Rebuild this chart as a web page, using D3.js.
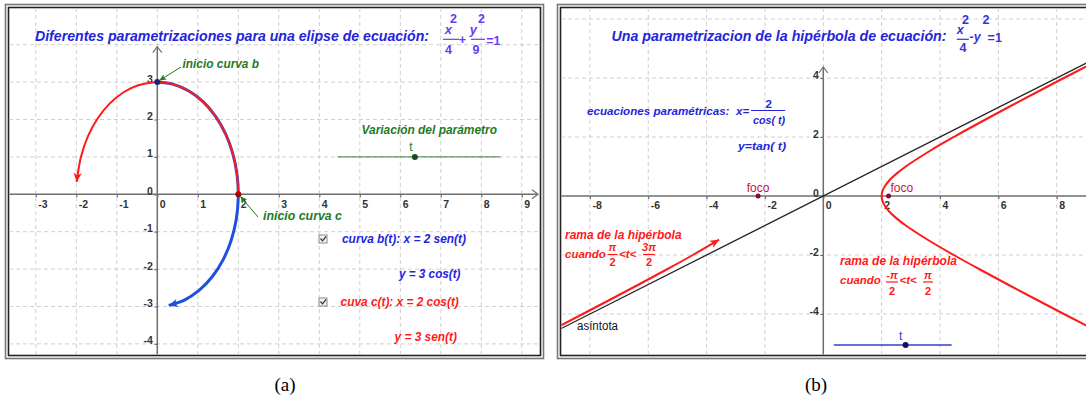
<!DOCTYPE html>
<html><head><meta charset="utf-8">
<script src="https://cdn.jsdelivr.net/npm/d3@7"></script>
<style>
html,body{margin:0;padding:0;background:#fff;}
</style></head><body>
<svg id="chart" width="1086" height="401"></svg>
<script>
// ---------------- data ----------------
const leftXTicks = [-3,-2,-1,0,1,2,3,4,5,6,7,8,9];
const leftYGrid = [-4,-3,-2,-1,0,1,2,3,4];
const leftYTicks = [-4,-3,-2,-1,0,1,2,3];
const rightXTicks = [-8,-6,-4,-2,0,2,4,6,8];
const rightYTicks = [-4,-2,0,2,4];
const rightYGrid = [-4,-2,2,4,6];

// curva b(t): x = 2 sen(t), y = 3 cos(t)   (points read along the blue arc)
const curveB = [[0,3],[0.397,2.940],[0.779,2.763],[1.129,2.476],[1.435,2.090],[1.683,1.621],
  [1.864,1.087],[1.971,0.510],[1.999,-0.088],[1.948,-0.682],[1.819,-1.248],[1.617,-1.766],
  [1.351,-2.212],[1.031,-2.571],[0.670,-2.827],[0.282,-2.970]];
// curva c(t): x = 2 cos(t), y = 3 sen(t)   (points read along the red arc)
const curveC = [[2,0],[1.960,0.596],[1.842,1.168],[1.651,1.694],[1.393,2.152],[1.081,2.524],
  [0.725,2.796],[0.340,2.956],[-0.058,2.999],[-0.454,2.921],[-0.832,2.728],[-1.177,2.425],
  [-1.475,2.026],[-1.714,1.547],[-1.884,1.005],[-1.980,0.423],[-1.991,0.33]];
const startB = [0,3];
const startC = [2,0];
const leftSlider = {from:4.45, to:8.47, y:1.0, value:6.36};

// hyperbola x^2/4 - y^2 = 1
const hypRight = [[11.18,-5.5],[10.198,-5],[9.220,-4.5],[8.246,-4],[7.280,-3.5],[6.325,-3],[5.385,-2.5],
  [4.472,-2],[3.606,-1.5],[2.828,-1],[2.5,-0.75],[2.236,-0.5],[2.062,-0.25],[2.016,-0.125],[2,0],
  [2.016,0.125],[2.062,0.25],[2.236,0.5],[2.5,0.75],[2.828,1],[3.606,1.5],[4.472,2],[5.385,2.5],
  [6.325,3],[7.280,3.5],[8.246,4],[9.220,4.5],[10.198,5],[11.18,5.5]];
const hypLeft = [[-11.18,-5.5],[-10.198,-5],[-9.220,-4.5],[-8.246,-4],[-7.280,-3.5],[-6.325,-3],
  [-5.385,-2.5],[-4.472,-2],[-3.572,-1.48]];
const asymptote = [[-10,-5],[10,5]];
const foci = [[-2.236,0],[2.236,0]];
const rightSlider = {from:0.36, to:4.40, y:-5.05, value:2.82};

// ---------------- drawing ----------------
const SANS = "'Liberation Sans', Arial, sans-serif";
const svg = d3.select("#chart");
const defs = svg.append("defs");
function marker(id, color, w, h){
  defs.append("marker").attr("id",id).attr("viewBox","0 0 10 10")
    .attr("refX",10).attr("refY",5).attr("markerWidth",w).attr("markerHeight",h)
    .attr("markerUnits","userSpaceOnUse").attr("orient","auto")
    .append("path").attr("d","M0,0.5L10,5L0,9.5L2.5,5Z").attr("fill",color);
}
marker("arrRed","#ff1a1a",12,9);
marker("arrBlue","#1f4fe0",12,9);
marker("arrGreen","#1e7b1e",8,7);

const BLUE = "#2424dd", RED = "#ff1a1a", GREEN = "#1e7b1e";

function txt(g, s, x, y, o={}){
  const t = g.append("text").attr("x",x).attr("y",y).text(s)
    .style("font-family", SANS)
    .attr("font-size", o.size||12)
    .attr("font-weight", o.weight||"bold")
    .attr("font-style", o.style||"italic")
    .attr("fill", o.fill||"#000")
    .attr("text-anchor", o.anchor||"start");
  if (o.len) t.attr("textLength", o.len).attr("lengthAdjust","spacingAndGlyphs");
  return t;
}
function bar(g, x1, x2, y, color){
  g.append("line").attr("x1",x1).attr("x2",x2).attr("y1",y).attr("y2",y)
    .attr("stroke",color).attr("stroke-width",1.2);
}

function panel(cfg){
  const g = svg.append("g");
  const {x, y, box} = cfg;
  g.append("rect").attr("x",box.x0-3.5).attr("y",box.y0-3.5)
    .attr("width",box.x1-box.x0+7).attr("height",box.y1-box.y0+7)
    .attr("fill","none").attr("stroke","#777").attr("stroke-width",1.6);
  g.append("rect").attr("x",box.x0-0.5).attr("y",box.y0-0.5)
    .attr("width",box.x1-box.x0+1).attr("height",box.y1-box.y0+1)
    .attr("fill","#fff").attr("stroke","#222").attr("stroke-width",1.6);
  const clipId = cfg.id + "clip";
  defs.append("clipPath").attr("id",clipId).append("rect")
    .attr("x",box.x0+0.5).attr("y",box.y0+0.5)
    .attr("width",box.x1-box.x0-1).attr("height",box.y1-box.y0-1);
  const inner = g.append("g").attr("clip-path",`url(#${clipId})`);
  inner.append("g").selectAll("line").data(cfg.xGrid).join("line")
    .attr("x1",d=>x(d)).attr("x2",d=>x(d)).attr("y1",box.y0).attr("y2",box.y1)
    .attr("stroke","#cfcfcf").attr("stroke-dasharray","4,3").attr("stroke-width",1);
  inner.append("g").selectAll("line").data(cfg.yGrid).join("line")
    .attr("y1",d=>y(d)).attr("y2",d=>y(d)).attr("x1",box.x0).attr("x2",box.x1)
    .attr("stroke","#cfcfcf").attr("stroke-dasharray","4,3").attr("stroke-width",1);
  const axCol = "#6f6f6f";
  inner.append("line").attr("x1",box.x0).attr("x2",cfg.xArrow).attr("y1",y(0)).attr("y2",y(0))
    .attr("stroke",axCol).attr("stroke-width",1.5);
  inner.append("line").attr("x1",x(0)).attr("x2",x(0)).attr("y1",cfg.yArrow).attr("y2",box.y1)
    .attr("stroke",axCol).attr("stroke-width",1.5);
  inner.append("path").attr("d",`M${x(0)-4.5},${cfg.yArrow+6}L${x(0)},${cfg.yArrow}L${x(0)+4.5},${cfg.yArrow+6}`)
    .attr("fill","none").attr("stroke",axCol).attr("stroke-width",1.2);
  inner.append("path").attr("d",`M${cfg.xArrow-6},${y(0)-4.5}L${cfg.xArrow},${y(0)}L${cfg.xArrow-6},${y(0)+4.5}`)
    .attr("fill","none").attr("stroke",axCol).attr("stroke-width",1.2);
  const ax = inner.append("g").attr("transform",`translate(0,${y(0)})`)
    .call(d3.axisBottom(x).tickValues(cfg.xTicks).tickSize(3).tickFormat(d=>String(d)));
  const ay = inner.append("g").attr("transform",`translate(${x(0)},0)`)
    .call(d3.axisLeft(y).tickValues(cfg.yTicks).tickSize(3).tickFormat(d=>String(d)));
  [ax, ay].forEach(a=>{
    a.select(".domain").remove();
    a.selectAll(".tick line").attr("stroke",axCol).attr("stroke-width",1.2);
    a.selectAll(".tick text").style("font-family",SANS)
      .attr("font-size",10.5).attr("font-weight","bold").attr("fill","#333");
  });
  ax.selectAll(".tick text").attr("text-anchor","start").attr("x",2).attr("y",cfg.xLabDy).attr("dy",null);
  ay.selectAll(".tick text").attr("x",-4.5).attr("y",0).attr("dy",null);
  return {g, inner};
}

// ---------- Panel (a) ----------
const lx = d3.scaleLinear().domain([-3,9]).range([35.8,521.8]);
const ly = d3.scaleLinear().domain([-4,4]).range([343.9,44.7]);
const A = panel({id:"a", x:lx, y:ly, box:{x0:9,y0:8,x1:540,y1:355},
  xGrid:leftXTicks, yGrid:leftYGrid, xTicks:leftXTicks, yTicks:leftYTicks,
  xArrow:538, yArrow:46.7, xLabDy:13.5});
const lineL = d3.line().x(d=>lx(d[0])).y(d=>ly(d[1])).curve(d3.curveCatmullRom);
A.inner.append("path").attr("d",lineL(curveB)).attr("fill","none")
  .attr("stroke","#1f4fe0").attr("stroke-width",3).attr("marker-end","url(#arrBlue)");
A.inner.append("path").attr("d",lineL(curveC)).attr("fill","none")
  .attr("stroke","#ff1a1a").attr("stroke-width",2).attr("marker-end","url(#arrRed)");
A.inner.append("circle").attr("cx",lx(startB[0])).attr("cy",ly(startB[1])).attr("r",3).attr("fill","#18247a");
A.inner.append("circle").attr("cx",lx(startC[0])).attr("cy",ly(startC[1])).attr("r",3).attr("fill","#b00000");
A.g.append("line").attr("x1",181).attr("y1",67).attr("x2",lx(startB[0])+2).attr("y2",ly(startB[1])-1.5)
  .attr("stroke",GREEN).attr("stroke-width",1).attr("marker-end","url(#arrGreen)");
A.g.append("line").attr("x1",258).attr("y1",217).attr("x2",lx(startC[0])+2).attr("y2",ly(startC[1])+2)
  .attr("stroke",GREEN).attr("stroke-width",1).attr("marker-end","url(#arrGreen)");
A.g.append("line").attr("x1",lx(leftSlider.from)).attr("x2",lx(leftSlider.to))
  .attr("y1",ly(leftSlider.y)).attr("y2",ly(leftSlider.y)).attr("stroke","#3a7d3a").attr("stroke-width",1);
A.g.append("circle").attr("cx",lx(leftSlider.value)).attr("cy",ly(leftSlider.y)).attr("r",3).attr("fill","#1b4d1b");
txt(A.g,"t",lx(leftSlider.value)-4,151,{fill:GREEN,style:"normal",weight:"normal",size:12,anchor:"middle"});
txt(A.g,"Diferentes parametrizaciones para una elipse de ecuación:",35,40.5,{fill:BLUE,size:14,len:394});
const FV = "#6a3cf0";
txt(A.g,"x",448.4,33.5,{fill:FV,anchor:"middle",size:13});
txt(A.g,"2",453.6,23,{fill:FV,anchor:"middle",style:"normal",size:12.5});
bar(A.g,443,459,39.3,FV);
txt(A.g,"4",448.4,53.5,{fill:FV,anchor:"middle",style:"normal",size:12.5});
txt(A.g,"+",462.5,44,{fill:FV,anchor:"middle",style:"normal",size:12.5});
txt(A.g,"y",473.4,33.5,{fill:FV,anchor:"middle",size:13});
txt(A.g,"2",481.4,23,{fill:FV,anchor:"middle",style:"normal",size:12.5});
bar(A.g,471,485,39.3,FV);
txt(A.g,"9",476,53.5,{fill:FV,anchor:"middle",style:"normal",size:12.5});
txt(A.g,"=1",486.3,44.5,{fill:FV,style:"normal",size:12.5});
txt(A.g,"inicio curva b",182.5,68,{fill:GREEN,len:76.5});
txt(A.g,"inicio curva c",263,219.5,{fill:GREEN,len:79});
txt(A.g,"Variación del parámetro",361.5,134,{fill:GREEN,len:135.5});
function checkbox(g,cx,cy){
  g.append("rect").attr("x",cx-4).attr("y",cy-4).attr("width",8).attr("height",8)
    .attr("fill","#f2f2f2").attr("stroke","#8a8a8a").attr("stroke-width",1);
  g.append("path").attr("d",`M${cx-2.5},${cy-0.5}L${cx-0.5},${cy+1.8}L${cx+3},${cy-2.5}`)
    .attr("fill","none").attr("stroke","#333").attr("stroke-width",1.2);
}
checkbox(A.g,323,239);
checkbox(A.g,323,302);
txt(A.g,"curva b(t): x = 2 sen(t)",342,243,{fill:BLUE,len:124});
txt(A.g,"y = 3 cos(t)",399,278,{fill:BLUE,len:61.5});
txt(A.g,"cuva c(t): x = 2 cos(t)",340.6,305.5,{fill:RED,len:118.2});
txt(A.g,"y = 3 sen(t)",394.5,341,{fill:RED,len:62.5});

// ---------- Panel (b) ----------
const rx = d3.scaleLinear().domain([-8,8]).range([589.9,1056.7]);
const ry = d3.scaleLinear().domain([-4,4]).range([314,78]);
const B = panel({id:"b", x:rx, y:ry, box:{x0:561,y0:8,x1:1094,y1:355},
  xGrid:rightXTicks, yGrid:rightYGrid, xTicks:rightXTicks, yTicks:rightYTicks,
  xArrow:1100, yArrow:67, xLabDy:13});
const lineR = d3.line().x(d=>rx(d[0])).y(d=>ry(d[1]));
B.inner.append("path").attr("d",lineR(asymptote)).attr("fill","none")
  .attr("stroke","#222").attr("stroke-width",1.3);
const lineRc = d3.line().x(d=>rx(d[0])).y(d=>ry(d[1])).curve(d3.curveCatmullRom);
B.inner.append("path").attr("d",lineRc(hypRight)).attr("fill","none")
  .attr("stroke","#ff1a1a").attr("stroke-width",2);
B.inner.append("path").attr("d",lineRc(hypLeft)).attr("fill","none")
  .attr("stroke","#ff1a1a").attr("stroke-width",2).attr("marker-end","url(#arrRed)");
B.inner.selectAll(".foco").data(foci).join("circle").attr("class","foco")
  .attr("cx",d=>rx(d[0])).attr("cy",d=>ry(d[1])).attr("r",2.5).attr("fill","#8b0a2a");
txt(B.g,"foco",rx(foci[0][0]),192,{fill:"#cc1040",style:"normal",weight:"normal",anchor:"middle"});
txt(B.g,"foco",rx(foci[1][0])+2,192,{fill:"#cc1040",style:"normal",weight:"normal"});
B.g.append("line").attr("x1",rx(rightSlider.from)).attr("x2",rx(rightSlider.to))
  .attr("y1",ry(rightSlider.y)).attr("y2",ry(rightSlider.y)).attr("stroke","#3040d0").attr("stroke-width",1.5);
B.g.append("circle").attr("cx",rx(rightSlider.value)).attr("cy",ry(rightSlider.y)).attr("r",3).attr("fill","#101060");
txt(B.g,"t",rx(rightSlider.value)-5,339.5,{fill:"#3040d0",style:"normal",weight:"normal",anchor:"middle"});
txt(B.g,"Una parametrizacion de la hipérbola  de ecuación:",611.5,40.5,{fill:BLUE,size:14,len:335});
const FV2 = "#3a2fd8";
txt(B.g,"x",960.3,33.5,{fill:FV2,anchor:"middle",size:12.5});
txt(B.g,"2",965.4,23.5,{fill:FV2,anchor:"middle",style:"normal",size:12.5});
bar(B.g,956.8,968.8,39.3,FV2);
txt(B.g,"4",963,51.5,{fill:FV2,anchor:"middle",style:"normal",size:12.5});
txt(B.g,"-y",969.5,41,{fill:FV2,size:12.5});
txt(B.g,"2",986,24,{fill:FV2,anchor:"middle",style:"normal",size:12.5});
txt(B.g,"=1",987.6,42,{fill:FV2,style:"normal",size:12.5});
txt(B.g,"ecuaciones paramétricas:",587,115,{fill:BLUE,size:11.5,len:142.5});
txt(B.g,"x=",736,115,{fill:BLUE,size:11.5});
txt(B.g,"2",768.8,107.5,{fill:BLUE,size:11.5,anchor:"middle",style:"normal"});
bar(B.g,751,785.2,110.5,BLUE);
txt(B.g,"cos( t)",769,123.5,{fill:BLUE,size:11.5,anchor:"middle",len:32});
txt(B.g,"y=tan( t)",738,150,{fill:BLUE,size:11.5,len:48});
// rama 1
txt(B.g,"rama de la hipérbola",565,239,{fill:RED,len:116.6});
txt(B.g,"cuando",565,258,{fill:RED,size:11.5});
txt(B.g,"π",612.5,251,{fill:RED,anchor:"middle",size:11});
bar(B.g,607.5,617.5,254.5,RED);
txt(B.g,"2",612.5,266,{fill:RED,anchor:"middle",size:11,style:"normal"});
txt(B.g,"<t<",619,258,{fill:RED,size:11.5});
txt(B.g,"3π",649,251,{fill:RED,anchor:"middle",size:11});
bar(B.g,643,655,254.5,RED);
txt(B.g,"2",649,266,{fill:RED,anchor:"middle",size:11,style:"normal"});
// rama 2
txt(B.g,"rama de la hipérbola",840,265,{fill:RED,len:117});
txt(B.g,"cuando",840,284,{fill:RED,size:11.5});
txt(B.g,"-π",892,278.5,{fill:RED,anchor:"middle",size:11});
bar(B.g,886,898,282,RED);
txt(B.g,"2",892,295,{fill:RED,anchor:"middle",size:11,style:"normal"});
txt(B.g,"<t<",899.5,284,{fill:RED,size:11.5});
txt(B.g,"π",928,278.5,{fill:RED,anchor:"middle",size:11});
bar(B.g,923,933,282,RED);
txt(B.g,"2",928,295,{fill:RED,anchor:"middle",size:11,style:"normal"});
txt(B.g,"asíntota",577,330,{fill:"#111",style:"normal",weight:"normal",len:41});

// captions
const SERIF = "'Liberation Serif', 'Times New Roman', serif";
svg.append("text").attr("x",285).attr("y",391).attr("text-anchor","middle")
  .style("font-family",SERIF).attr("font-size",19).text("(a)");
svg.append("text").attr("x",816).attr("y",391).attr("text-anchor","middle")
  .style("font-family",SERIF).attr("font-size",19).text("(b)");
</script>
</body></html>
